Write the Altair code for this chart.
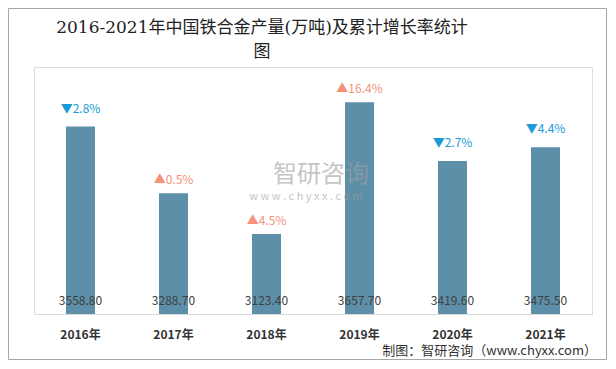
import altair as alt
import pandas as pd

years = ["2016年", "2017年", "2018年", "2019年", "2020年", "2021年"]
output = [3558.80, 3288.70, 3123.40, 3657.70, 3419.60, 3475.50]
growth = [2.8, 0.5, 4.5, 16.4, 2.7, 4.4]
direction = ["down", "up", "up", "up", "down", "down"]

title_lines = ["2016-2021年中国铁合金产量(万吨)及累计增长率统计", "图"]
source_text = "制图：智研咨询（www.chyxx.com）"

df = pd.DataFrame({"year": years, "output": output, "growth": growth, "direction": direction})
df["label"] = [f"{v:.2f}" for v in output]
df["arrow"] = [("▼" if d == "down" else "▲") + f"{g}%" for g, d in zip(growth, direction)]

W, H = 558, 247
YMIN, YMAX = 2800, 3800
SANS = "Noto Sans CJK SC"

x = alt.X(
    "year:N", sort=years,
    scale=alt.Scale(paddingInner=0, paddingOuter=0),
    axis=alt.Axis(title=None, labelAngle=0, labelFontWeight="bold", labelFontSize=12,
                  labelColor="#333333", labelPadding=15, labelFont=SANS,
                  domainColor="#d9d9d9", ticks=False, grid=False),
)
yscale = alt.Scale(domain=[YMIN, YMAX], zero=False, nice=False)

base = alt.Chart(df)

bars = base.mark_bar(size=29, color="#5d8fa8").encode(
    x=x,
    y=alt.Y("output:Q", scale=yscale, axis=None),
    y2=alt.datum(YMIN),
)

values = base.mark_text(fontSize=12, color="#404040", font=SANS, baseline="middle", dy=-13).encode(
    x=x, y=alt.datum(YMIN), text="label:N"
)

up = base.transform_filter(alt.datum.direction == "up").mark_text(
    fontSize=12, color="#f4937a", font=SANS, baseline="middle", dy=-13
).encode(x=x, y=alt.Y("output:Q", scale=yscale), text="arrow:N")

down = base.transform_filter(alt.datum.direction == "down").mark_text(
    fontSize=12, color="#1a9bd7", font=SANS, baseline="middle", dy=-18
).encode(x=x, y=alt.Y("output:Q", scale=yscale), text="arrow:N")

one = alt.Data(values=[{}])

title1 = alt.Chart(one).mark_text(
    fontSize=17, font="DejaVu Serif, Noto Sans CJK SC", color="#222222", baseline="middle"
).encode(x=alt.value(228), y=alt.value(-39), text=alt.value(title_lines[0]))
title2 = alt.Chart(one).mark_text(
    fontSize=17, font="DejaVu Serif, Noto Sans CJK SC", color="#222222", baseline="middle"
).encode(x=alt.value(228), y=alt.value(-15), text=alt.value(title_lines[1]))

wm1 = alt.Chart(one).mark_text(fontSize=24, font=SANS, color="#a0a0a0", opacity=0.6,
                               baseline="middle").encode(
    x=alt.value(287), y=alt.value(108), text=alt.value("智研咨询"))
wm2 = alt.Chart(one).mark_text(fontSize=11, font=SANS, color="#a0a0a0", opacity=0.6,
                               baseline="middle").encode(
    x=alt.value(272), y=alt.value(130), text=alt.value("w w w . c h y x x . c o m"))
logo = alt.Chart(one).mark_text(fontSize=24, font=SANS, color="#b8c8e0", opacity=0.7,
                                fontWeight="bold", baseline="middle").encode(
    x=alt.value(216), y=alt.value(108), text=alt.value("卍"))

footer = alt.Chart(one).mark_text(fontSize=13, font=SANS, color="#333333", align="right",
                                  baseline="middle").encode(
    x=alt.value(563), y=alt.value(284), text=alt.value(source_text))

border = alt.Chart(one).mark_rect(fillOpacity=0, stroke="#a6a6a6", strokeWidth=1).encode(
    x=alt.value(-25.5), x2=alt.value(572.5), y=alt.value(-58.5), y2=alt.value(292.5))

chart = alt.layer(border, bars, values, up, down, wm1, wm2, title1, title2, footer).properties(
    width=W, height=H,
    autosize=alt.AutoSizeParams(type="none"),
    padding={"left": 26, "top": 59, "right": 16, "bottom": 47},
).configure_view(stroke=None).configure(background="white")

chart.save("out.html", embed_options={"renderer": "svg", "actions": False})
